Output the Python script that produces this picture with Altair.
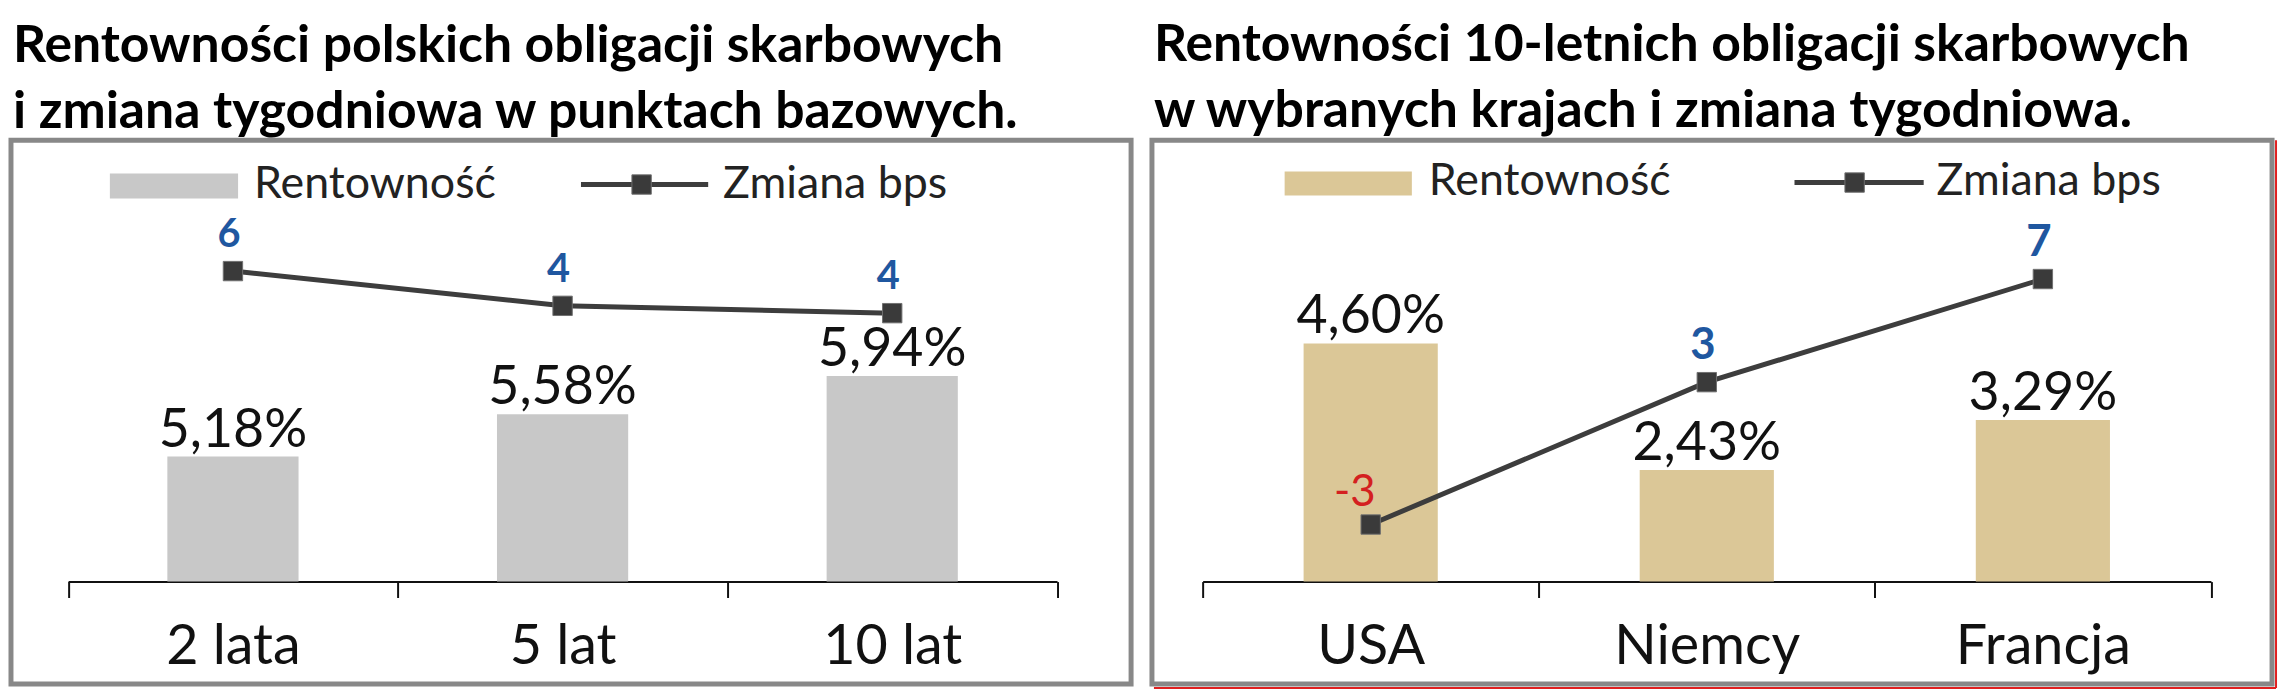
import altair as alt
import pandas as pd

# ---- data ----
pl_categories = ["2 lata", "5 lat", "10 lat"]
pl_yield = [5.18, 5.58, 5.94]
pl_change = [6.0, 4.1, 3.7]

intl_categories = ["USA", "Niemcy", "Francja"]
intl_yield = [4.60, 2.43, 3.29]
intl_change = [-3.0, 2.8, 7.0]

legend_labels = ["Rentowność", "Zmiana bps"]

title_left = ["Rentowności polskich obligacji skarbowych",
              "i zmiana tygodniowa w punktach bazowych."]
title_right = ["Rentowności 10-letnich obligacji skarbowych",
               " w wybranych krajach i zmiana tygodniowa."]

FONT = "Lato"
VIEW_W, VIEW_H = 1127, 547
AXIS_Y = 444  # axis baseline inside the view


def panel(cats, yields, changes, bar_color, x_range, bar_size,
          ybar_dom, yline_dom, yline_range, leg, title, lab_size, red=False):
    df = pd.DataFrame({"cat": cats, "yield": yields, "bps": changes})
    base = alt.Chart(df)
    xenc = alt.X(
        "cat:N", sort=cats,
        scale=alt.Scale(range=x_range, paddingInner=0, paddingOuter=0),
        axis=alt.Axis(
            title=None, offset=-(VIEW_H - AXIS_Y), domainColor="#111",
            domainWidth=2, tickColor="#111", tickWidth=2, tickSize=16,
            tickBand="extent", labelFont=FONT, labelFontSize=56,
            labelColor="#111", labelPadding=22, labelAngle=0, grid=False,
            labelLimit=0, labelOverlap=False,
        ),
    )
    ybar = alt.Scale(domain=ybar_dom, range=[AXIS_Y, 0])
    yl = alt.Scale(domain=yline_dom, range=yline_range)

    bars = base.mark_bar(size=bar_size, color=bar_color).encode(
        x=xenc, y=alt.Y("yield:Q", scale=ybar, axis=None),
        y2=alt.datum(ybar_dom[0]))
    barlab = base.transform_calculate(
        lab="replace(format(datum.yield, '.2f'), '.', ',') + '%'"
    ).mark_text(font=FONT, fontSize=54, color="#111", baseline="alphabetic",
                dy=-10).encode(
        x=xenc, y=alt.Y("yield:Q", scale=ybar, axis=None), text="lab:N")
    line = base.mark_line(color="#3d3d3d", strokeWidth=5).encode(
        x=xenc, y=alt.Y("bps:Q", scale=yl, axis=None))
    pts = base.mark_point(shape="square", filled=True, size=380,
                          fill="#3a3a3a", stroke="#707070", strokeWidth=1,
                          opacity=1).encode(
        x=xenc, y=alt.Y("bps:Q", scale=yl, axis=None))
    poslab = base.transform_filter("datum.bps >= 0").transform_calculate(
        lab="'' + round(datum.bps)"
    ).mark_text(font=FONT, fontSize=lab_size, fontWeight="bold",
                color="#1f57a0", baseline="middle", dy=-36, dx=-4).encode(
        x=xenc, y=alt.Y("bps:Q", scale=yl, axis=None), text="lab:N")
    neglab = base.transform_filter("datum.bps < 0").transform_calculate(
        lab="'' + round(datum.bps)"
    ).mark_text(font=FONT, fontSize=lab_size, color="#d42020",
                baseline="middle", dy=-32, dx=-16).encode(
        x=xenc, y=alt.Y("bps:Q", scale=yl, axis=None), text="lab:N")

    one = alt.Chart(pd.DataFrame({"k": [0]}))
    sw = one.mark_rect(color=bar_color).encode(
        x=alt.value(leg["sw"][0]), x2=alt.value(leg["sw"][1]),
        y=alt.value(leg["sw"][2]), y2=alt.value(leg["sw"][3]))
    t1 = one.mark_text(text=legend_labels[0], font=FONT, fontSize=45,
                       color="#222", align="left", baseline="alphabetic").encode(
        x=alt.value(leg["t1"][0]), y=alt.value(leg["t1"][1]))
    lr = one.mark_rule(color="#3d3d3d", strokeWidth=5).encode(
        x=alt.value(leg["ln"][0]), x2=alt.value(leg["ln"][1]),
        y=alt.value(leg["ln"][2]))
    lsq = one.mark_point(shape="square", filled=True, size=380,
                         fill="#3a3a3a", stroke="#707070", strokeWidth=1,
                         opacity=1).encode(
        x=alt.value(leg["ln"][3]), y=alt.value(leg["ln"][2]))
    t2 = one.mark_text(text=legend_labels[1], font=FONT, fontSize=45,
                       color="#222", align="left", baseline="alphabetic").encode(
        x=alt.value(leg["t2"][0]), y=alt.value(leg["t2"][1]))

    layers = [bars, barlab, line, pts, poslab, neglab, sw, t1, lr, lsq, t2]
    if red:
        rb = one.mark_rule(color="#e02020", strokeWidth=2).encode(
            x=alt.value(2), x2=alt.value(VIEW_W + 4),
            y=alt.value(VIEW_H + 4))
        rr = one.mark_rule(color="#e02020", strokeWidth=2).encode(
            x=alt.value(VIEW_W + 4), y=alt.value(0),
            y2=alt.value(VIEW_H + 4))
        layers += [rb, rr]

    return alt.layer(*layers).resolve_scale(y="independent").properties(
        width=VIEW_W, height=VIEW_H,
        title=alt.TitleParams(text=title, anchor="start", font=FONT,
                              fontSize=52, fontWeight="bold", color="#000",
                              lineHeight=67, offset=1, dx=2),
    )


left = panel(
    pl_categories, pl_yield, pl_change, "#c8c8c8", [57.5, 1052.5], 132,
    [4.0, 8.165], [0, 10], [242, 58],
    {"sw": [99.5, 228.5, 33.5, 58.5], "t1": [244.5, 58.5],
     "ln": [573.5, 701.5, 44.5, 634.5], "t2": [716.5, 58.5]},
    title_left, 40)

right = panel(
    intl_categories, intl_yield, intl_change, "#dbc797", [51, 1065.5], 135,
    [0.52, 8.08], [-5, 10], [436, 65.5],
    {"sw": [133.5, 261.5, 31.5, 55.5], "t1": [278.5, 55.5],
     "ln": [646.5, 776.5, 42.5, 707], "t2": [789.5, 55.5]},
    title_right, 44, red=True)

chart = alt.hconcat(left, right, spacing=15).properties(
    padding={"top": 6, "left": 0, "right": 0, "bottom": 0}
).configure_view(stroke="#888888", strokeWidth=5)

chart.save("out.html", embed_options={"renderer": "svg", "actions": False})
